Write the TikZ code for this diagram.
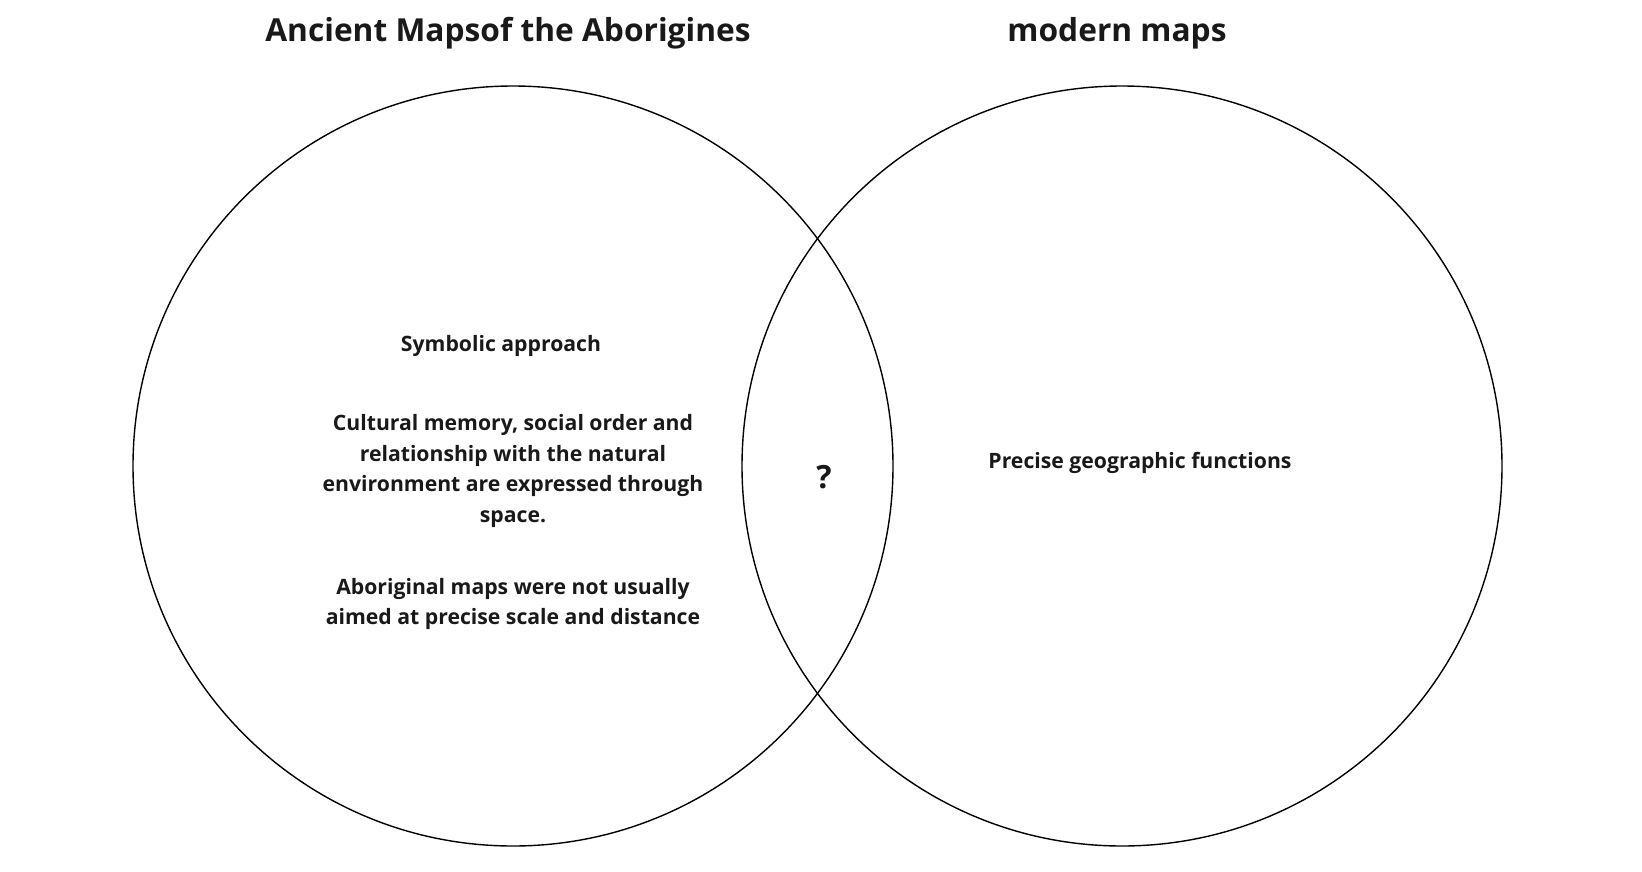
\documentclass[tikz,border=0pt]{standalone}
\usepackage{fontspec}
\setmainfont{Open Sans}
\usepackage{tikz}
\usetikzlibrary{positioning}

\begin{document}
\begin{tikzpicture}[
    x=1pt, y=-1pt,
    set/.style = {circle, draw, line width=1.4pt, minimum size=760pt, inner sep=0pt},
    heading/.style = {font=\bfseries\fontsize{31.7}{38}\selectfont, text=black!90},
    label/.style = {align=center, font=\bfseries\fontsize{21.2}{30.4}\selectfont, text=black!90}
]
    \useasboundingbox (0,0) rectangle (1642,871);

    \node[set] (ANC) at (513,466) {};
    \node[set] (MOD) at (1122,466) {};

    \node[heading] (TA) at (508,33) {Ancient Mapsof the Aborigines};
    \node[heading] (TM) at (1117,33) {modern maps};

    \node[label] (SYM) at (501,346) {Symbolic approach};
    \node[label] (CUL) at (513,471) {Cultural memory, social order and\\relationship with the natural\\environment are expressed through\\space.};
    \node[label] (ABO) at (513,604) {Aboriginal maps were not usually\\aimed at precise scale and distance};

    \node[label, font=\bfseries\fontsize{32}{34}\selectfont] (Q) at (824,477) {?};

    \node[label] (PRE) at (1140,463) {Precise geographic functions};
\end{tikzpicture}
\end{document}
